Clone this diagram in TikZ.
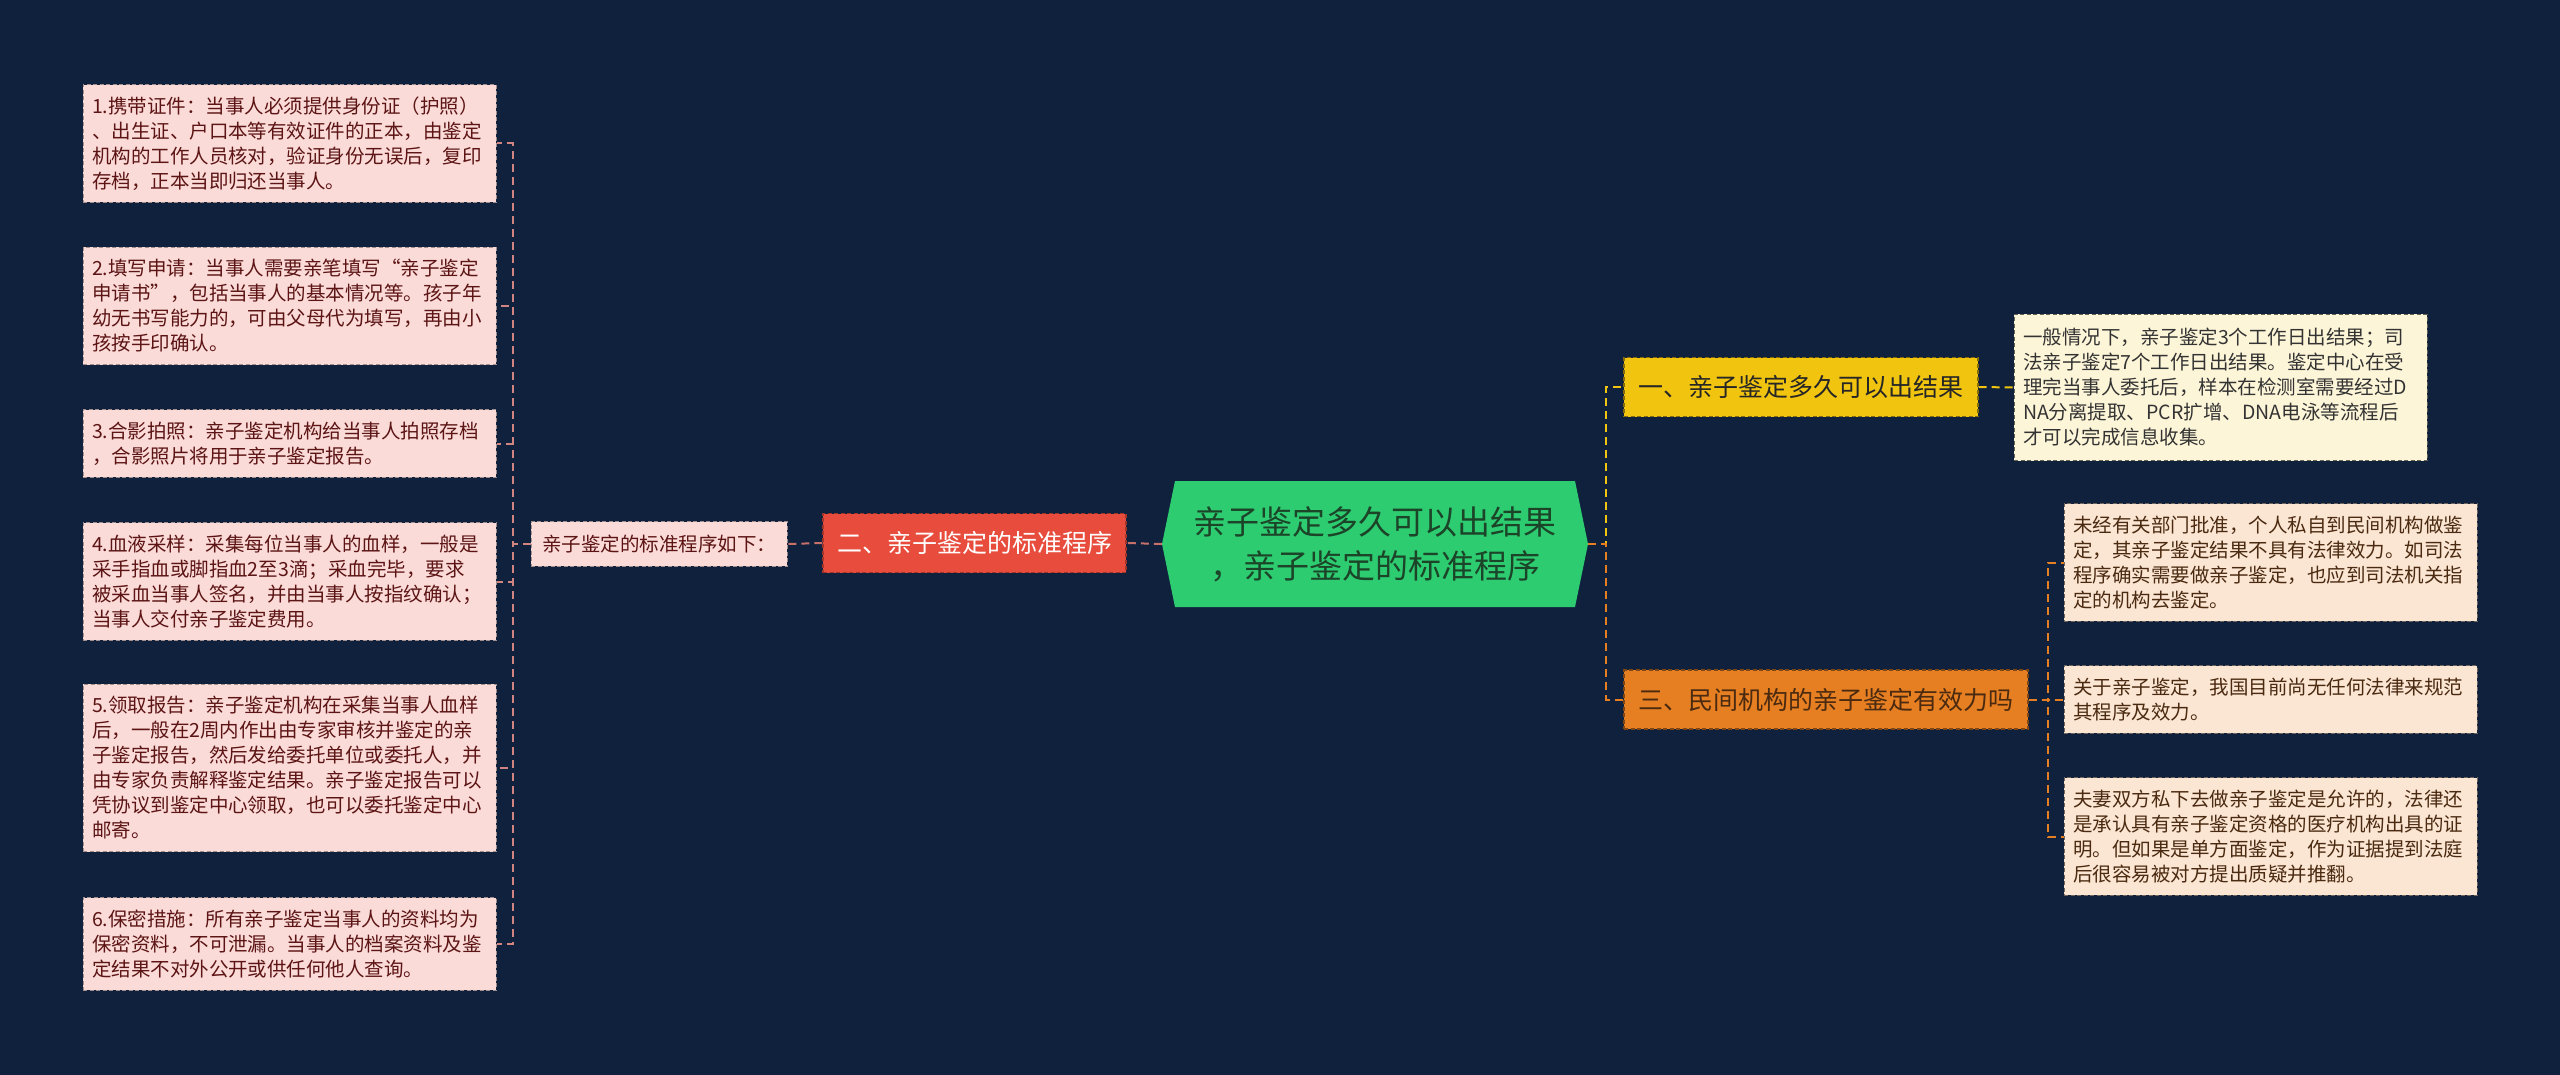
\documentclass[tikz,border=0pt]{standalone}
\usepackage{fontspec}
\newfontfamily\cjk{Noto Sans CJK SC}

\definecolor{bgnavy}{HTML}{0F213C}
\definecolor{rootgreen}{HTML}{2ECC71}
\definecolor{rootink}{HTML}{1B4428}
\definecolor{procred}{HTML}{E74C3C}
\definecolor{timeyellow}{HTML}{F1C40F}
\definecolor{lawamber}{HTML}{E67E22}
\definecolor{stepfill}{HTML}{FADBD8}
\definecolor{stepink}{HTML}{5C1414}
\definecolor{creamfill}{HTML}{FDF5D8}
\definecolor{peachfill}{HTML}{FBE5D3}
\definecolor{brownink}{HTML}{4A2A10}
\definecolor{linkpink}{HTML}{C8706A}

\begin{document}
\begin{tikzpicture}[x=1pt,y=-1pt,
    topic/.style={draw,dash pattern=on 4pt off 2.5pt,line width=1.2pt,
        font=\cjk\fontsize{25pt}{30pt}\selectfont,inner sep=0pt,minimum height=59pt},
    leaf/.style={draw,dash pattern=on 4pt off 2.5pt,line width=1pt,
        font=\cjk\fontsize{19.5pt}{25pt}\selectfont,align=left,
        text width=395pt,inner xsep=9pt,inner ysep=12pt},
    link/.style={line width=2pt,dash pattern=on 8pt off 5pt}]
    \def\leftx{289.5}
    \def\rightx{2270.5}

    \useasboundingbox (0,0) rectangle (2560,1075);
    \fill[bgnavy] (0,0) rectangle (2560,1075);

    % centre topic
    \fill[rootgreen] (1162,544) -- (1175,481) -- (1575,481) -- (1588,544)
        -- (1575,607) -- (1175,607) -- cycle;
    \node[font=\cjk\fontsize{33pt}{44pt}\selectfont,text=rootink,align=center,
        minimum width=426pt,minimum height=126pt,inner sep=0pt]
        (root) at (1375,544) {亲子鉴定多久可以出结果\\，亲子鉴定的标准程序};

    % left branch
    \node[topic,fill=procred,draw=procred!70!black,text=white,minimum width=303pt]
        (proc) at (974.5,543) {二、亲子鉴定的标准程序};
    \node[leaf,fill=stepfill,draw=stepfill!65!black,text=stepink,text width=234pt,
        inner xsep=11pt,inner ysep=13pt] (steps) at (659,544) {亲子鉴定的标准程序如下：};

    \node[leaf,fill=stepfill,draw=stepfill!65!black,text=stepink] (s1) at (\leftx,143.5)
        {1.携带证件：当事人必须提供身份证（护照）\\、出生证、户口本等有效证件的正本，由鉴定\\机构的工作人员核对，验证身份无误后，复印\\存档，正本当即归还当事人。};
    \node[leaf,fill=stepfill,draw=stepfill!65!black,text=stepink] (s2) at (\leftx,306)
        {2.填写申请：当事人需要亲笔填写“亲子鉴定\\申请书”，包括当事人的基本情况等。孩子年\\幼无书写能力的，可由父母代为填写，再由小\\孩按手印确认。};
    \node[leaf,fill=stepfill,draw=stepfill!65!black,text=stepink] (s3) at (\leftx,443.5)
        {3.合影拍照：亲子鉴定机构给当事人拍照存档\\，合影照片将用于亲子鉴定报告。};
    \node[leaf,fill=stepfill,draw=stepfill!65!black,text=stepink] (s4) at (\leftx,581.5)
        {4.血液采样：采集每位当事人的血样，一般是\\采手指血或脚指血2至3滴；采血完毕，要求\\被采血当事人签名，并由当事人按指纹确认；\\当事人交付亲子鉴定费用。};
    \node[leaf,fill=stepfill,draw=stepfill!65!black,text=stepink] (s5) at (\leftx,768)
        {5.领取报告：亲子鉴定机构在采集当事人血样\\后，一般在2周内作出由专家审核并鉴定的亲\\子鉴定报告，然后发给委托单位或委托人，并\\由专家负责解释鉴定结果。亲子鉴定报告可以\\凭协议到鉴定中心领取，也可以委托鉴定中心\\邮寄。};
    \node[leaf,fill=stepfill,draw=stepfill!65!black,text=stepink] (s6) at (\leftx,944)
        {6.保密措施：所有亲子鉴定当事人的资料均为\\保密资料，不可泄漏。当事人的档案资料及鉴\\定结果不对外公开或供任何他人查询。};

    % right branch
    \node[topic,fill=timeyellow,draw=timeyellow!55!black,text=black!85,minimum width=354pt]
        (q1) at (1801,387) {一、亲子鉴定多久可以出结果};
    \node[leaf,fill=creamfill,draw=creamfill!40!black,text=black!80,inner ysep=14pt]
        (ynote) at (2220.5,387.5)
        {一般情况下，亲子鉴定3个工作日出结果；司\\法亲子鉴定7个工作日出结果。鉴定中心在受\\理完当事人委托后，样本在检测室需要经过D\\NA分离提取、PCR扩增、DNA电泳等流程后\\才可以完成信息收集。};
    \node[topic,fill=lawamber,draw=lawamber!55!black,text=brownink,minimum width=404pt]
        (q3) at (1826,699.5) {三、民间机构的亲子鉴定有效力吗};

    \node[leaf,fill=peachfill,draw=peachfill!45!black,text=brownink] (r1) at (\rightx,562.5)
        {未经有关部门批准，个人私自到民间机构做鉴\\定，其亲子鉴定结果不具有法律效力。如司法\\程序确实需要做亲子鉴定，也应到司法机关指\\定的机构去鉴定。};
    \node[leaf,fill=peachfill,draw=peachfill!45!black,text=brownink] (r2) at (\rightx,699.5)
        {关于亲子鉴定，我国目前尚无任何法律来规范\\其程序及效力。};
    \node[leaf,fill=peachfill,draw=peachfill!45!black,text=brownink] (r3) at (\rightx,836.5)
        {夫妻双方私下去做亲子鉴定是允许的，法律还\\是承认具有亲子鉴定资格的医疗机构出具的证\\明。但如果是单方面鉴定，作为证据提到法庭\\后很容易被对方提出质疑并推翻。};

    % connectors
    \draw[link,linkpink] (root.west) -- (proc.east);
    \draw[link,linkpink] (proc.west) -- (steps.east);
    \foreach \s in {s1,s2,s3,s4,s5,s6}
        \draw[link,linkpink!85!white] (steps.west) -- ++(-18,0) |- (\s.east);
    \draw[link,timeyellow] (root.east) -- ++(18,0) |- (q1.west);
    \draw[link,lawamber] (root.east) -- ++(18,0) |- (q3.west);
    \draw[link,timeyellow] (q1.east) -- (ynote.west);
    \foreach \r in {r1,r2,r3}
        \draw[link,lawamber] (q3.east) -- ++(19,0) |- (\r.west);
\end{tikzpicture}
\end{document}
